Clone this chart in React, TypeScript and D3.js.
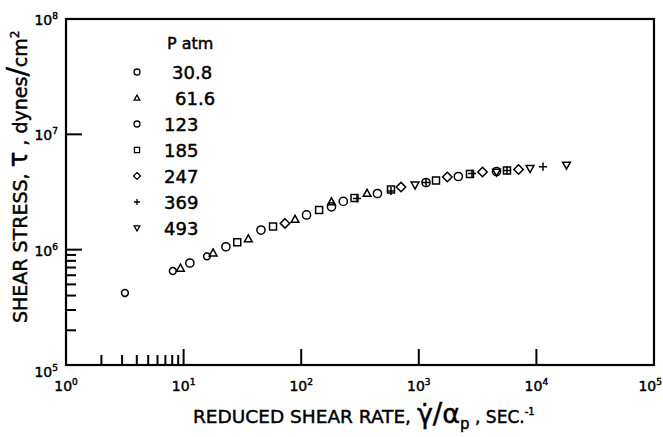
import React, { useEffect, useRef } from 'react';
import { select, scaleLog } from 'd3';

const pressureLabels = ['30.8', '61.6', '123', '185', '247', '369', '493'];
const markerKinds = ['smallCircle', 'triangle', 'circle', 'square', 'diamond', 'plus', 'down'];

// reduced shear rate (sec^-1) and shear stress (dynes/cm2) for each pressure
const rate308 = [3.17, 8.1, 15.8];
const stress308 = [4.21e5, 6.53e5, 8.75e5];
const rate616 = [9.4, 17.8, 35.5, 88.6, 181, 363];
const stress616 = [6.89e5, 9.35e5, 1.24e6, 1.83e6, 2.59e6, 3.07e6];
const rate123 = [11.3, 22.9, 45.5, 111, 181, 228, 445, 1151, 2168, 4580];
const stress123 = [7.66e5, 1.06e6, 1.48e6, 2.0e6, 2.35e6, 2.62e6, 3.07e6, 3.82e6, 4.31e6, 4.76e6];
const rate185 = [28.6, 57.6, 142, 284, 580, 1401, 2724, 5623];
const stress185 = [1.16e6, 1.59e6, 2.21e6, 2.8e6, 3.32e6, 3.98e6, 4.53e6, 4.86e6];
const rate247 = [72.8, 706, 1748, 3480, 7047];
const stress247 = [1.69e6, 3.49e6, 4.27e6, 4.71e6, 4.95e6];
const rate369 = [298, 580, 1151, 2834, 5623, 11380];
const stress369 = [2.78e6, 3.23e6, 3.82e6, 4.57e6, 4.86e6, 5.24e6];
const rate493 = [929, 4580, 8830, 18030];
const stress493 = [3.64e6, 4.71e6, 5.06e6, 5.42e6];

const seriesRates = [rate308, rate616, rate123, rate185, rate247, rate369, rate493];
const seriesStresses = [stress308, stress616, stress123, stress185, stress247, stress369, stress493];

const xDecades = [1, 10, 100, 1000, 10000, 100000];
const yDecades = [1e5, 1e6, 1e7, 1e8];
const xMinor = [2, 3, 4, 5, 6, 7, 8, 9];
const yMinor = [2e5, 3e5, 4e5, 5e5, 6e5, 7e5, 8e5, 9e5];

const FONT = '"DejaVu Sans", sans-serif';

function markerPath(kind: string, s: number): string {
  switch (kind) {
    case 'smallCircle':
    case 'circle':
      return `M${s},0A${s},${s} 0 1,1 ${-s},0A${s},${s} 0 1,1 ${s},0Z`;
    case 'triangle':
      return `M0,${-s}L${s * 0.95},${s * 0.7}L${-s * 0.95},${s * 0.7}Z`;
    case 'down':
      return `M0,${s}L${s * 0.95},${-s * 0.7}L${-s * 0.95},${-s * 0.7}Z`;
    case 'square':
      return `M${-s * 0.85},${-s * 0.85}h${1.7 * s}v${1.7 * s}h${-1.7 * s}Z`;
    case 'diamond':
      return `M0,${-s * 1.15}L${s * 1.15},0L0,${s * 1.15}L${-s * 1.15},0Z`;
    default:
      return `M${-s},0H${s}M0,${-s}V${s}`;
  }
}

const ShearChart: React.FC = () => {
  const svgRef = useRef<SVGSVGElement | null>(null);
  const width = 663;
  const height = 437;

  useEffect(() => {
    if (!svgRef.current) return;
    const svg = select(svgRef.current);
    svg.selectAll('*').remove();

    const left = 66, right = 654, top = 19, bottom = 365;
    const x = scaleLog().domain([1, 1e5]).range([left, right]);
    const y = scaleLog().domain([1e5, 1e8]).range([bottom, top]);

    // heavier lettering, like the hand-inked original
    const ink = (sel: any) => sel.attr('font-family', FONT).attr('stroke', '#000').attr('stroke-width', 0.45);

    // frame
    svg.append('rect')
      .attr('x', left).attr('y', top)
      .attr('width', right - left).attr('height', bottom - top)
      .attr('fill', 'none').attr('stroke', '#000').attr('stroke-width', 2.2);

    // x ticks (drawn inward)
    xMinor.forEach((v) => {
      svg.append('line')
        .attr('x1', x(v)).attr('x2', x(v)).attr('y1', bottom).attr('y2', bottom - 10)
        .attr('stroke', '#000').attr('stroke-width', 2);
    });
    xDecades.slice(1, -1).forEach((v) => {
      svg.append('line')
        .attr('x1', x(v)).attr('x2', x(v)).attr('y1', bottom).attr('y2', bottom - 16)
        .attr('stroke', '#000').attr('stroke-width', 2);
    });
    yMinor.forEach((v) => {
      svg.append('line')
        .attr('x1', left).attr('x2', left + 10).attr('y1', y(v)).attr('y2', y(v))
        .attr('stroke', '#000').attr('stroke-width', 2);
    });
    yDecades.slice(1, -1).forEach((v) => {
      svg.append('line')
        .attr('x1', left).attr('x2', left + 16).attr('y1', y(v)).attr('y2', y(v))
        .attr('stroke', '#000').attr('stroke-width', 2);
    });

    // tick labels
    xDecades.forEach((v, i) => {
      const last = i === xDecades.length - 1;
      const t = svg.append('text')
        .attr('x', last ? 662 : x(v)).attr('y', bottom + 26)
        .attr('text-anchor', last ? 'end' : 'middle')
        .attr('font-size', 14)
        .call(ink);
      t.append('tspan').text('10');
      t.append('tspan').attr('font-size', 9).attr('dy', -6).text(String(i));
    });
    yDecades.forEach((v, i) => {
      const t = svg.append('text')
        .attr('x', left - 8).attr('y', y(v) + (i === 0 ? 12 : 6))
        .attr('text-anchor', 'end')
        .attr('font-size', 14)
        .call(ink);
      t.append('tspan').text('10');
      t.append('tspan').attr('font-size', 9).attr('dy', -6).text(String(i + 5));
    });

    // data points
    seriesRates.forEach((rates, si) => {
      const kind = markerKinds[si];
      const s = kind === 'smallCircle' ? 3.4 : 4.1;
      rates.forEach((r, j) => {
        svg.append('path')
          .attr('d', markerPath(kind, s))
          .attr('transform', `translate(${x(r)},${y(seriesStresses[si][j])})`)
          .attr('fill', 'none').attr('stroke', '#000').attr('stroke-width', 1.5);
      });
    });

    // legend
    svg.append('text')
      .attr('x', 167).attr('y', 49)
      .attr('font-size', 16)
      .call(ink)
      .text('P atm');
    pressureLabels.forEach((p, i) => {
      const ly = 72 + i * 26;
      svg.append('path')
        .attr('d', markerPath(markerKinds[i], 3))
        .attr('transform', `translate(137,${ly})`)
        .attr('fill', 'none').attr('stroke', '#000').attr('stroke-width', 1.3);
      const lx = p.includes('.') ? (p.startsWith('6') ? 175 : 172) : 164;
      svg.append('text')
        .attr('x', lx).attr('y', ly + 7)
        .attr('font-size', 18)
        .call(ink)
        .text(p);
    });

    // y axis title
    const yt = svg.append('text')
      .attr('transform', 'translate(27,323) rotate(-90)')
      .attr('font-size', 19)
      .call(ink);
    yt.append('tspan').text('SHEAR  STRESS, ');
    yt.append('tspan').attr('font-size', 26).text('τ');
    yt.append('tspan').text(' , dynes');
    yt.append('tspan').attr('font-size', 28).text('/');
    yt.append('tspan').text('cm');
    yt.append('tspan').attr('font-size', 12).attr('dy', -8).text('2');

    // x axis title
    const xt = svg.append('text')
      .attr('x', 193).attr('y', 423)
      .attr('font-size', 18.5)
      .call(ink);
    xt.append('tspan').text('REDUCED SHEAR RATE, ');
    xt.append('tspan').attr('font-size', 27).text('γ̇');
    xt.append('tspan').attr('font-size', 28).text('/');
    xt.append('tspan').attr('font-size', 27).text('α');
    xt.append('tspan').attr('font-size', 15).attr('dy', 6).text('p');
    xt.append('tspan').attr('font-size', 17).attr('dy', -6).text(' , SEC.');
    xt.append('tspan').attr('font-size', 10).attr('dy', -8).text('-1');
  }, []);

  return (
    <svg
      ref={svgRef}
      width={width}
      height={height}
      style={{ position: 'absolute', left: 0, top: 0, background: '#fff' }}
    />
  );
};

export default function App() {
  return <ShearChart />;
}
